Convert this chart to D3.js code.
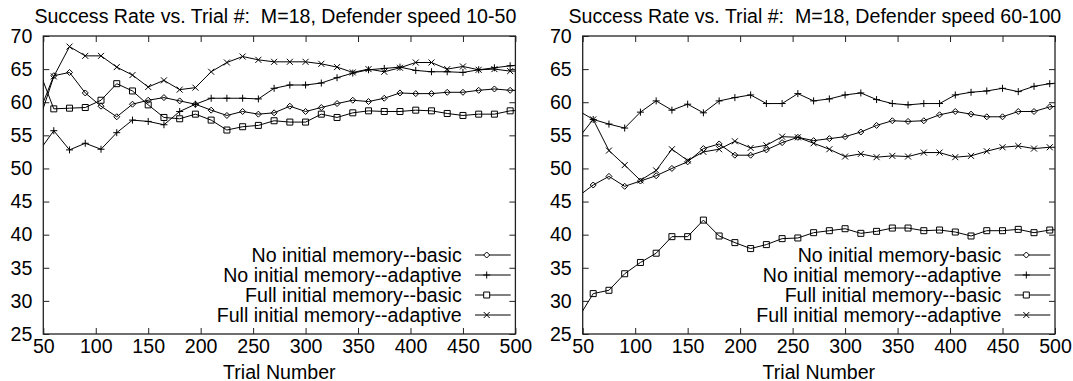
<!DOCTYPE html>
<html>
<head>
<meta charset="utf-8">
<script src="https://cdn.jsdelivr.net/npm/d3@7"></script>
<style>
  html, body { margin: 0; padding: 0; background: #fff; }
  svg { display: block; }
  text { font-family: "Liberation Sans", Arial, Helvetica, sans-serif; fill: #000; white-space: pre; }
</style>
</head>
<body>
<svg id="chart" width="1073" height="381"></svg>
<script>
// ---------- data ----------
const trials = [45, 60, 75, 90, 105, 120, 135, 150, 165, 180, 195, 210, 225, 240, 255, 270,
                285, 300, 315, 330, 345, 360, 375, 390, 405, 420, 435, 450, 465, 480, 495, 510];

const xTicks = [50, 100, 150, 200, 250, 300, 350, 400, 450, 500];
const yTicks = [25, 30, 35, 40, 45, 50, 55, 60, 65, 70];

const leftTitle = "Success Rate vs. Trial #:  M=18, Defender speed 10-50";
const rightTitle = "Success Rate vs. Trial #:  M=18, Defender speed 60-100";
const xLabel = "Trial Number";

const leftNames = ["No initial memory--basic", "No initial memory--adaptive",
                   "Full initial memory--basic", "Full initial memory--adaptive"];
const rightNames = ["No initial memory-basic", "No initial memory--adaptive",
                    "Full initial memory--basic", "Full initial memory--adaptive"];

const leftNoBasic = [58.0, 64.0, 64.5, 61.4, 59.4, 57.8, 59.7, 60.3, 60.7, 60.2, 59.7, 58.8, 58.0, 58.6, 58.2, 58.4,
                     59.4, 58.6, 59.2, 59.8, 60.3, 60.1, 60.6, 61.4, 61.3, 61.3, 61.5, 61.5, 61.8, 62.0, 61.8, 61.8];
const leftNoAdaptive = [52.4, 55.7, 52.8, 53.8, 52.9, 55.4, 57.3, 57.1, 56.6, 58.6, 59.7, 60.6, 60.6, 60.6, 60.5, 62.1,
                        62.6, 62.6, 62.9, 63.7, 64.4, 64.9, 65.1, 65.3, 64.8, 64.6, 64.6, 64.5, 64.9, 65.2, 65.5, 65.7];
const leftFullBasic = [65.2, 59.0, 59.1, 59.2, 60.3, 62.8, 61.7, 59.6, 57.7, 57.5, 58.2, 57.3, 55.8, 56.3, 56.5, 57.2,
                       57.0, 57.0, 58.2, 57.7, 58.4, 58.7, 58.6, 58.6, 58.8, 58.7, 58.3, 58.0, 58.2, 58.2, 58.7, 58.8];
const leftFullAdaptive = [56.7, 63.9, 68.4, 67.0, 67.0, 65.3, 64.1, 62.3, 63.3, 61.9, 62.2, 64.6, 66.0, 66.9, 66.4, 66.1,
                          66.1, 66.1, 65.8, 65.3, 64.5, 65.0, 64.6, 65.2, 66.0, 66.0, 65.0, 65.4, 64.9, 65.0, 64.7, 64.7];

const rightNoBasic = [45.7, 47.5, 48.8, 47.3, 48.1, 48.9, 50.0, 51.0, 53.0, 53.7, 52.0, 52.0, 52.8, 53.9, 54.7, 54.2,
                      54.5, 54.8, 55.5, 56.5, 57.2, 57.1, 57.2, 58.1, 58.6, 58.2, 57.8, 57.8, 58.6, 58.6, 59.3, 59.5];
const rightNoAdaptive = [58.8, 57.4, 56.7, 56.1, 58.5, 60.2, 58.8, 59.7, 58.4, 60.2, 60.7, 61.1, 59.8, 59.8, 61.3, 60.2,
                         60.5, 61.1, 61.4, 60.4, 59.8, 59.6, 59.8, 59.8, 61.1, 61.5, 61.7, 62.1, 61.6, 62.4, 62.8, 63.0];
const rightFullBasic = [27.2, 31.1, 31.6, 34.1, 35.8, 37.2, 39.7, 39.7, 42.2, 39.8, 38.8, 37.9, 38.5, 39.4, 39.5, 40.3,
                        40.6, 40.9, 40.2, 40.5, 41.0, 41.0, 40.6, 40.7, 40.4, 39.8, 40.6, 40.6, 40.8, 40.3, 40.7, 40.8];
const rightFullAdaptive = [54.4, 57.4, 52.7, 50.5, 48.2, 49.7, 52.9, 51.2, 52.5, 52.9, 54.1, 53.1, 53.5, 54.8, 54.7, 53.8,
                           52.9, 51.8, 52.2, 51.7, 51.9, 51.8, 52.4, 52.4, 51.7, 51.9, 52.6, 53.2, 53.4, 53.0, 53.2, 53.2];

const markerTypes = ["diamond", "plus", "square", "cross"];

// ---------- drawing ----------
const svg = d3.select("#chart");
const FONT = 19.6;

function markerPath(type, s) {
  switch (type) {
    case "diamond": return `M0,${-s}L${s},0L0,${s}L${-s},0Z`;
    case "plus": return `M${-s},0H${s}M0,${-s}V${s}`;
    case "square": return `M${-s},${-s}H${s}V${s}H${-s}Z`;
    case "cross": return `M${-s},${-s}L${s},${s}M${-s},${s}L${s},${-s}`;
  }
}

function panel(cfg) {
  const g = svg.append("g");
  const x = d3.scaleLinear().domain([50, 500]).range([cfg.x0, cfg.x1]);
  const y = d3.scaleLinear().domain([25, 70]).range([334, 36]);

  const clipId = "clip" + cfg.id;
  svg.append("clipPath").attr("id", clipId)
    .append("rect").attr("x", cfg.x0).attr("y", 36)
    .attr("width", cfg.x1 - cfg.x0).attr("height", 334 - 36);

  // axes with inward ticks
  const ax = [
    {a: d3.axisBottom(x).tickValues(xTicks).tickSizeInner(-6).tickSizeOuter(0).tickPadding(5), t: `translate(0,334)`},
    {a: d3.axisTop(x).tickValues(xTicks).tickSizeInner(-6).tickSizeOuter(0).tickFormat(""), t: `translate(0,36)`},
    {a: d3.axisLeft(y).tickValues(yTicks).tickSizeInner(-6).tickSizeOuter(0).tickPadding(11), t: `translate(${cfg.x0},0)`},
    {a: d3.axisRight(y).tickValues(yTicks).tickSizeInner(-6).tickSizeOuter(0).tickFormat(""), t: `translate(${cfg.x1},0)`}
  ];
  ax.forEach(d => {
    const ag = g.append("g").attr("transform", d.t).call(d.a);
    ag.select(".domain").remove();
    ag.selectAll(".tick line").attr("stroke", "#222").attr("stroke-width", 1);
    ag.selectAll(".tick text").style("font-size", FONT + "px")
      .style("font-family", '"Liberation Sans", Arial, sans-serif').attr("fill", "#000");
  });

  // frame
  g.append("rect").attr("x", cfg.x0).attr("y", 36)
    .attr("width", cfg.x1 - cfg.x0).attr("height", 298)
    .attr("fill", "none").attr("stroke", "#222").attr("stroke-width", 1.3);

  // title & x label
  g.append("text").attr("x", (cfg.x0 + cfg.x1) / 2 - 4).attr("y", 23.3)
    .attr("text-anchor", "middle").attr("xml:space", "preserve")
    .style("font-size", FONT + "px").text(cfg.title);
  g.append("text").attr("x", (cfg.x0 + cfg.x1) / 2).attr("y", 378.5)
    .attr("text-anchor", "middle").style("font-size", FONT + "px").text(xLabel);

  // series
  const line = d3.line().x(d => x(d[0])).y(d => y(d[1]));
  const plot = g.append("g").attr("clip-path", `url(#${clipId})`);
  cfg.series.forEach((vals, i) => {
    const pts = trials.map((t, j) => [t, vals[j]]);
    plot.append("path").datum(pts).attr("d", line)
      .attr("fill", "none").attr("stroke", "#000").attr("stroke-width", 1);
    plot.selectAll(null).data(pts.filter(p => p[0] >= 50 && p[0] <= 500)).enter()
      .append("path")
      .attr("transform", p => `translate(${x(p[0])},${y(p[1])})`)
      .attr("d", markerPath(markerTypes[i], markerTypes[i] === "plus" ? 3.5 : 3))
      .attr("fill", "none").attr("stroke", "#000").attr("stroke-width", 1);
  });

  // legend
  const lg = g.append("g");
  cfg.names.forEach((name, i) => {
    const ly = 255 + i * 20;
    lg.append("text").attr("x", cfg.x1 - 53.7).attr("y", ly + 6.5)
      .attr("text-anchor", "end").style("font-size", FONT + "px").text(name);
    lg.append("line").attr("x1", cfg.x1 - 40.4).attr("x2", cfg.x1 - 4.7)
      .attr("y1", ly).attr("y2", ly).attr("stroke", "#000").attr("stroke-width", 1);
    lg.append("path").attr("transform", `translate(${cfg.x1 - 28.7},${ly})`)
      .attr("d", markerPath(markerTypes[i], markerTypes[i] === "plus" ? 3.5 : 3))
      .attr("fill", "#fff").attr("stroke", "#000").attr("stroke-width", 1);
  });
}

panel({id: "L", x0: 43.3, x1: 515.4, title: leftTitle, names: leftNames,
       series: [leftNoBasic, leftNoAdaptive, leftFullBasic, leftFullAdaptive]});
panel({id: "R", x0: 582.7, x1: 1055, title: rightTitle, names: rightNames,
       series: [rightNoBasic, rightNoAdaptive, rightFullBasic, rightFullAdaptive]});
</script>
</body>
</html>
